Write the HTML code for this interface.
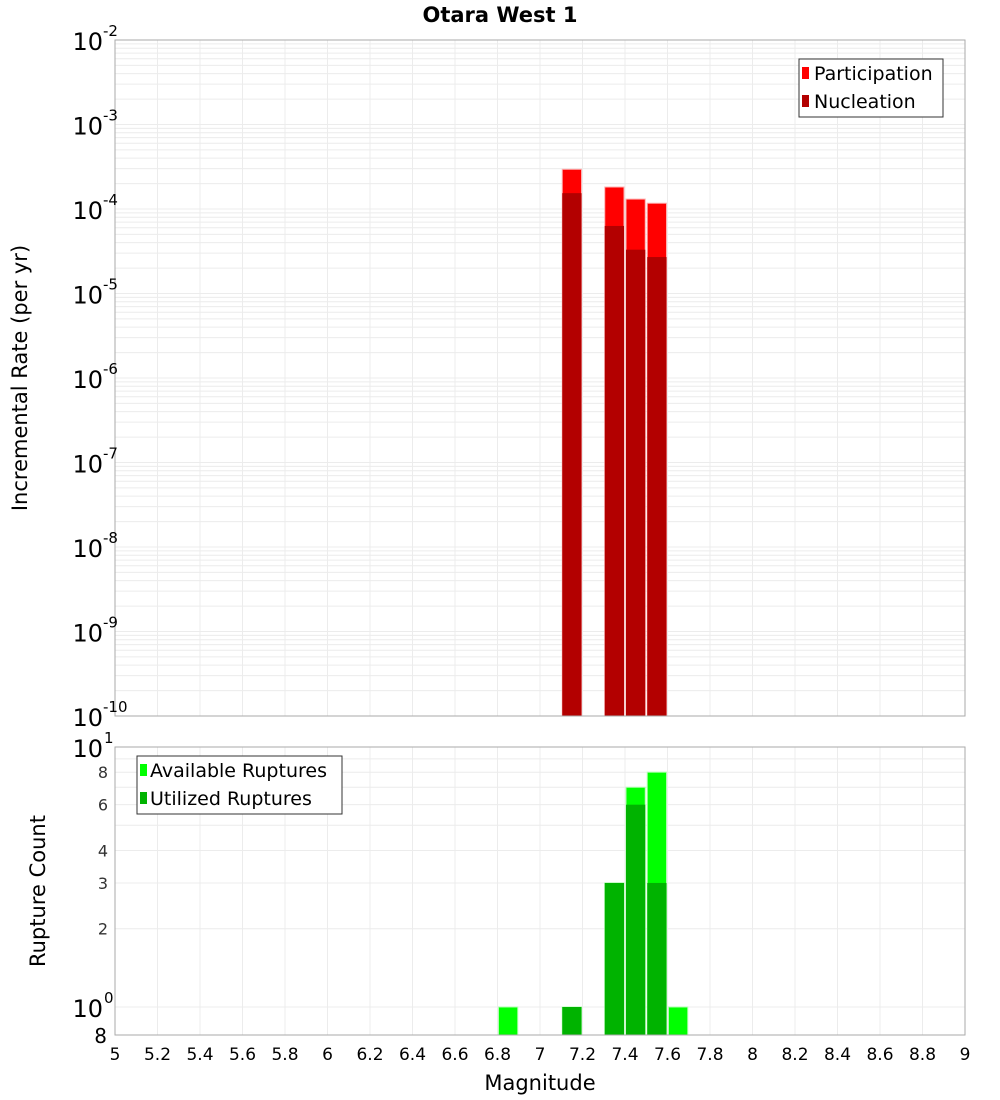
<!DOCTYPE html>
<html><head><meta charset="utf-8"><style>body{margin:0;background:#fff}svg{display:block;font-family:"DejaVu Sans","Liberation Sans",sans-serif}</style></head>
<body>
<svg id="c" width="1000" height="1100" xmlns="http://www.w3.org/2000/svg">
<text x="500" y="22" text-anchor="middle" font-size="21" font-weight="bold">Otara West 1</text>
<g id="gTop"></g>
<g id="gBot"></g>
<text transform="translate(27,378) rotate(-90)" text-anchor="middle" font-size="21">Incremental Rate (per yr)</text>
<text transform="translate(45,891) rotate(-90)" text-anchor="middle" font-size="21">Rupture Count</text>
<text x="540" y="1090" text-anchor="middle" font-size="21">Magnitude</text>
<g>
<rect x="799" y="59" width="144" height="58" fill="#fff" stroke="#333"/>
<rect x="802" y="67" width="7" height="12" fill="#ff0000"/><text x="814" y="80" font-size="19">Participation</text>
<rect x="802" y="95" width="7" height="12" fill="#b30000"/><text x="814" y="108" font-size="19">Nucleation</text>
</g>
<g>
<rect x="137" y="756" width="205" height="58" fill="#fff" stroke="#333"/>
<rect x="140" y="764" width="7" height="12" fill="#00ff00"/><text x="150" y="777" font-size="19">Available Ruptures</text>
<rect x="140" y="792" width="7" height="12" fill="#00b300"/><text x="150" y="805" font-size="19">Utilized Ruptures</text>
</g>
</svg>
<script>
const rateMags=[7.15,7.35,7.45,7.55];
const participation=[2.95e-4,1.82e-4,1.31e-4,1.17e-4];
const nucleation=[1.54e-4,6.3e-5,3.3e-5,2.7e-5];
const countMags=[6.85,7.15,7.35,7.45,7.55,7.65];
const available=[1,1,3,7,8,1];
const utilized=[0,1,3,6,3,0];
const xTicks=[5,5.2,5.4,5.6,5.8,6,6.2,6.4,6.6,6.8,7,7.2,7.4,7.6,7.8,8,8.2,8.4,8.6,8.8,9];
const rateExps=[-10,-9,-8,-7,-6,-5,-4,-3,-2];
const countTicks=[8,6,4,3,2];
const NS="http://www.w3.org/2000/svg";
const L=115,R=965,T1=40,B1=716,T2=747,B2=1035;
const xs=m=>L+(m-5)/4*(R-L);
const yR=v=>B1-(Math.log10(v)+10)/8*(B1-T1);
const yC=v=>T2+(1-Math.log10(v))*260;
function mk(p,t,a){const e=document.createElementNS(NS,t);for(const k in a)e.setAttribute(k,a[k]);p.appendChild(e);return e;}
const gTop=document.getElementById('gTop'),gBot=document.getElementById('gBot');
for(let e=-10;e<-2;e++)for(let k=1;k<10;k++){const y=yR(k*Math.pow(10,e));const ln=mk(gTop,'line',{x1:L,x2:R,y1:y,y2:y,stroke:'#ececec'});

}
xTicks.forEach(t=>{mk(gTop,'line',{x1:xs(t),x2:xs(t),y1:T1,y2:B1,stroke:'#ececec'});mk(gBot,'line',{x1:xs(t),x2:xs(t),y1:T2,y2:B2,stroke:'#ececec'});});
for(let k=1;k<=10;k++){const y=yC(k);mk(gBot,'line',{x1:L,x2:R,y1:y,y2:y,stroke:'#ececec'});}
rateMags.forEach((m,i)=>{
 const b1=mk(gTop,'rect',{x:xs(m-0.05)+1,width:xs(m+0.05)-xs(m-0.05)-2,y:yR(participation[i]),height:B1-yR(participation[i]),fill:'#ff0000',stroke:'#ffb0b0','stroke-width':1});
 
 
 const b2=mk(gTop,'rect',{x:xs(m-0.05)+1,width:xs(m+0.05)-xs(m-0.05)-2,y:yR(nucleation[i]),height:B1-yR(nucleation[i]),fill:'#b30000'});
 
 
});
countMags.forEach((m,i)=>{
 const b1=mk(gBot,'rect',{x:xs(m-0.05)+1,width:xs(m+0.05)-xs(m-0.05)-2,y:yC(available[i]),height:B2-yC(available[i]),fill:'#00ff00',stroke:'#b0ffb0'});
 
 
 if(utilized[i]>0){const b2=mk(gBot,'rect',{x:xs(m-0.05)+1,width:xs(m+0.05)-xs(m-0.05)-2,y:yC(utilized[i]),height:B2-yC(utilized[i]),fill:'#00b300'});
 
 }
});
mk(gTop,'rect',{x:L,y:T1,width:R-L,height:B1-T1,fill:'none',stroke:'#aaa'});
mk(gBot,'rect',{x:L,y:T2,width:R-L,height:B2-T2,fill:'none',stroke:'#aaa'});
rateExps.forEach(e=>{const y=yR(Math.pow(10,e));
 const t=mk(gTop,'text',{x:103,y:y+10,'text-anchor':'end','font-size':24});t.textContent='10';
 
 
 const s=mk(gTop,'text',{x:103,y:y-4,'font-size':15});s.textContent=String(e);});
[[1,'1',747],[0,'0',1007]].forEach(([v,s,y])=>{const t=mk(gBot,'text',{x:103,y:y+10,'text-anchor':'end','font-size':24});t.textContent='10';
 
 
 const u=mk(gBot,'text',{x:104,y:y-4,'font-size':15});u.textContent=s;});
countTicks.forEach(v=>{const t=mk(gBot,'text',{x:108,y:yC(v)+6,'text-anchor':'end','font-size':16,fill:'#333'});t.textContent=v;});
{const t=mk(gBot,'text',{x:107,y:1043,'text-anchor':'end','font-size':20});t.textContent='8';}
xTicks.forEach(v=>{const t=mk(gBot,'text',{x:xs(v),y:1060,'text-anchor':'middle','font-size':17});t.textContent=String(v);
 
 });
</script>
</body></html>
